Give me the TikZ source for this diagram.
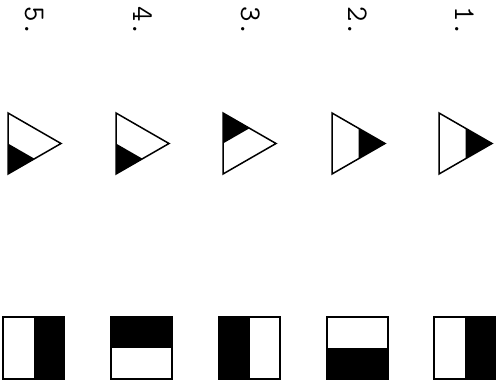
\documentclass[tikz,border=0pt]{standalone}
\usepackage{fontspec}
\usetikzlibrary{positioning}
\newcommand{\numsize}{\fontsize{30}{30}\selectfont}

\begin{document}
\begin{tikzpicture}[
        x=1pt,y=-1pt,
        outline/.style={draw=black,line width=1.5pt,line join=miter},
        darkpart/.style={fill=black},
        numlabel/.style={font=\ttfamily\numsize,rotate=-90,inner sep=0pt,anchor=base}
    ]
        \useasboundingbox (0,0) rectangle (503,382);

        % column numbers, turned on their side
        \foreach \n/\x in {5/25,4/133,3/241,2/348,1/455}
            \node[numlabel] (num\n) at (\x,22) {\n.};

        % triangles
        \begin{scope}[shift={(8,0)}]
            \fill[darkpart] (0,143.5) -- (0,174) -- (26.5,158.75) -- cycle;
            \draw[outline] (0,113) -- (0,174) -- (53,143.5) -- cycle;
        \end{scope}
        \begin{scope}[shift={(116,0)}]
            \fill[darkpart] (0,143.5) -- (0,174) -- (26.5,158.75) -- cycle;
            \draw[outline] (0,113) -- (0,174) -- (53,143.5) -- cycle;
        \end{scope}
        \begin{scope}[shift={(223,0)}]
            \fill[darkpart] (0,113) -- (0,143.5) -- (26.5,128.25) -- cycle;
            \draw[outline] (0,113) -- (0,174) -- (53,143.5) -- cycle;
        \end{scope}
        \begin{scope}[shift={(332,0)}]
            \fill[darkpart] (26.5,128.25) -- (53,143.5) -- (26.5,158.75) -- cycle;
            \draw[outline] (0,113) -- (0,174) -- (53,143.5) -- cycle;
        \end{scope}
        \begin{scope}[shift={(439,0)}]
            \fill[darkpart] (26.5,128.25) -- (53,143.5) -- (26.5,158.75) -- cycle;
            \draw[outline] (0,113) -- (0,174) -- (53,143.5) -- cycle;
        \end{scope}

        % squares
        \begin{scope}[shift={(3,317)}]
            \fill[darkpart] (30.5,0) rectangle (61,62);
            \draw[outline] (0,0) rectangle (61,62);
        \end{scope}
        \begin{scope}[shift={(111,317)}]
            \fill[darkpart] (0,0) rectangle (61,31);
            \draw[outline] (0,0) rectangle (61,62);
        \end{scope}
        \begin{scope}[shift={(219,317)}]
            \fill[darkpart] (0,0) rectangle (30.5,62);
            \draw[outline] (0,0) rectangle (61,62);
        \end{scope}
        \begin{scope}[shift={(327,317)}]
            \fill[darkpart] (0,31) rectangle (61,62);
            \draw[outline] (0,0) rectangle (61,62);
        \end{scope}
        \begin{scope}[shift={(434,317)}]
            \fill[darkpart] (30.5,0) rectangle (61,62);
            \draw[outline] (0,0) rectangle (61,62);
        \end{scope}
    \end{tikzpicture}
\end{document}
